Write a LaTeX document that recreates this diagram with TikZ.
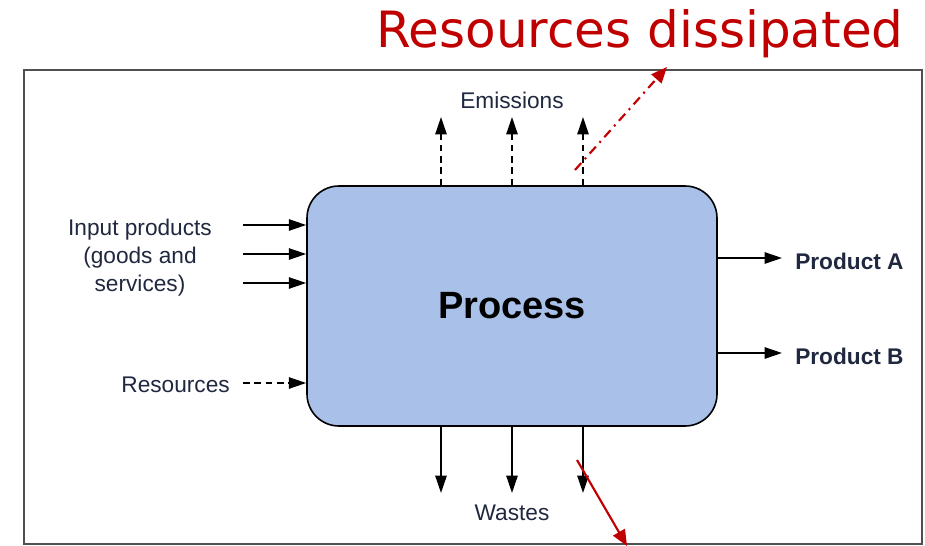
\documentclass[tikz,border=0pt]{standalone}
\usepackage{fontspec}
\setmainfont{Liberation Sans}
\newfontfamily\titlefont{DejaVu Sans}
\usetikzlibrary{arrows.meta}
\definecolor{procfill}{RGB}{169,193,233}
\definecolor{labelink}{RGB}{32,40,64}
\definecolor{alertred}{RGB}{192,0,0}
\definecolor{framegray}{RGB}{80,80,80}
\begin{document}
\begin{tikzpicture}[x=0.75pt,y=-0.75pt,
  flow/.style={line width=1.2pt,-{Triangle[length=13pt,width=8.5pt]}},
  dflow/.style={flow,dash pattern=on 5pt off 3.5pt},
  lbl/.style={text=labelink,font=\fontsize{17}{21}\selectfont,inner sep=0pt},
  blbl/.style={lbl,font=\fontsize{17}{21}\selectfont\bfseries},
  procbox/.style={draw=black,line width=1.2pt,fill=procfill,rounded corners=24pt,
    minimum width=307.5pt,minimum height=180pt,inner sep=0pt,
    font=\fontsize{28.5}{32}\selectfont\bfseries},
  redarrow/.style={draw=alertred,line width=1.6pt,-{Triangle[length=12pt,width=10pt]}}
]
\useasboundingbox (0,0) rectangle (925,546);
% outer frame
\draw[framegray,line width=0.8pt] (24,70) rectangle (922,544);

% central process box
\node[procbox] (proc) at (512,306) {Process};

% emission outlets (dashed, upwards)
\coordinate (e1) at (441,117);
\coordinate (e2) at (512,117);
\coordinate (e3) at (583,117);
\foreach \c in {e1,e2,e3} \draw[dflow] (proc.north -| \c) -- (\c);
\node[lbl] (emis) at (512,100) {Emissions};

% waste outlets (solid, downwards)
\coordinate (w1) at (441,493);
\coordinate (w2) at (512,493);
\coordinate (w3) at (583,493);
\foreach \c in {w1,w2,w3} \draw[flow] (proc.south -| \c) -- (\c);
\node[lbl] (wastes) at (512,513) {Wastes};

% input products
\coordinate (i1) at (243,225);
\coordinate (i2) at (243,254);
\coordinate (i3) at (243,283);
\foreach \c in {i1,i2,i3} \draw[flow] (\c) -- (\c -| proc.west);
\node[lbl,align=center] (inputs) at (140,258) {Input products\\(goods and\\services)};

% resources input (dashed)
\coordinate (r1) at (243,383);
\draw[dflow] (r1) -- (r1 -| proc.west);
\node[lbl,anchor=east] (res) at (230,385) {Resources};

% products
\coordinate (pa) at (782,258);
\coordinate (pb) at (782,353);
\draw[flow] (pa -| proc.east) -- (pa);
\draw[flow] (pb -| proc.east) -- (pb);
\node[blbl,anchor=west] (prodA) at (795,261) {Product A};
\node[blbl,anchor=west] (prodB) at (795,356) {Product B};

% dissipated resources annotation
\node[text=alertred,font=\titlefont\fontsize{37.5}{40}\selectfont,inner sep=0pt]
  (diss) at (640,34) {Resources dissipated};
\coordinate (d0) at (575,170);
\coordinate (d1) at (667,67);
\draw[redarrow,dash pattern=on 7pt off 4pt on 1.5pt off 4pt] (d0) -- (d1);
\coordinate (s0) at (577,460);
\coordinate (s1) at (627,546);
\draw[redarrow] (s0) -- (s1);
\end{tikzpicture}
\end{document}
